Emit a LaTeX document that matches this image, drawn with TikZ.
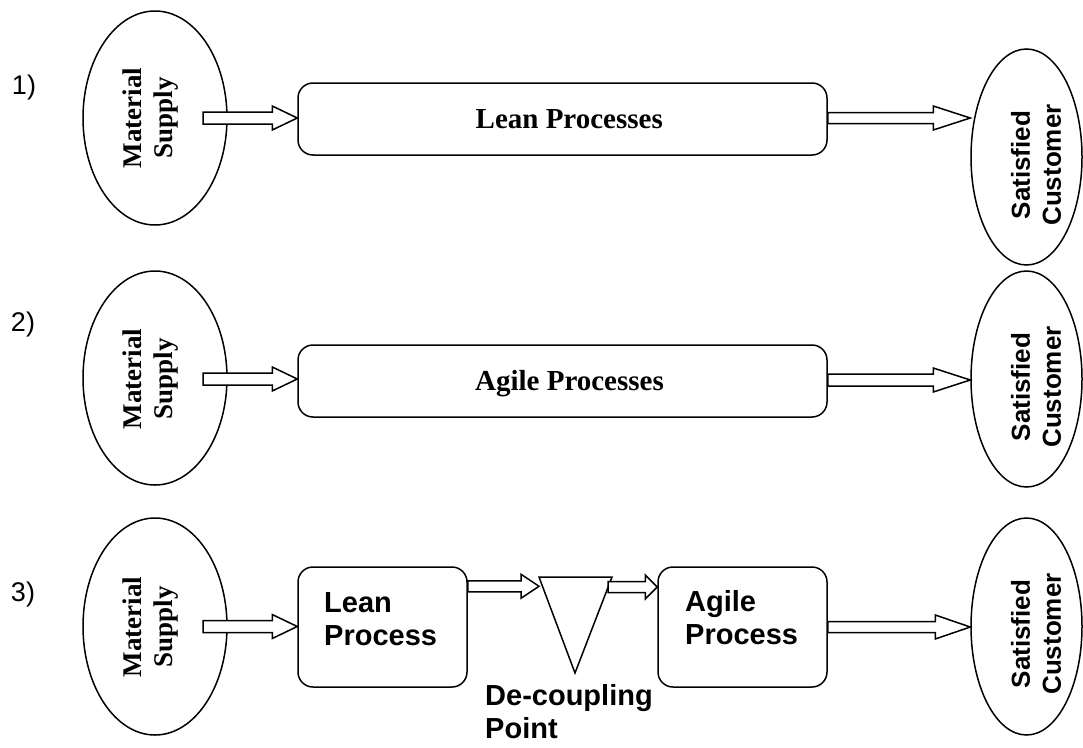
\documentclass[tikz,border=0pt]{standalone}
\usepackage{fontspec}
\setmainfont{Liberation Serif}
\setsansfont{Liberation Sans}
\usetikzlibrary{calc,shapes.geometric}
\tikzset{
 ell/.style={draw, ellipse, line width=1.5pt, fill=white, inner sep=0pt},
 proc/.style={draw, rounded corners=15pt, line width=1.5pt, fill=white, inner sep=0pt},
 blk/.style={draw, line width=1.5pt, fill=white, line join=miter},
 serifbig/.style={font=\fontsize{29}{33}\selectfont\bfseries, inner sep=0pt},
 sansbig/.style={font=\sffamily\fontsize{29}{33}\selectfont\bfseries, inner sep=0pt, align=left},
 mstext/.style={font=\fontsize{27}{31}\selectfont\bfseries, rotate=90, align=center, inner sep=0pt},
 sctext/.style={font=\sffamily\fontsize{26}{31}\selectfont\bfseries, rotate=90, align=center, inner sep=0pt},
 numtext/.style={font=\sffamily\fontsize{27}{31}\selectfont, inner sep=0pt},
}
\newcommand\blkarrow[4]{\draw[blk] let \p1=(#1), \p2=(#2) in
  (\x1,\y1+#4pt) -- (\x2-#3pt,\y1+#4pt) -- (\x2-#3pt,\y1+12pt) -- (\x2,\y1)
  -- (\x2-#3pt,\y1-12pt) -- (\x2-#3pt,\y1-#4pt) -- (\x1,\y1-#4pt) -- cycle;}
\begin{document}
\begin{tikzpicture}[x=1pt,y=-1pt]
\useasboundingbox (0,0) rectangle (1083,747);
% numbering
\node[numtext] (n1) at (24,88) {1)};
\node[numtext] (n2) at (23,325) {2)};
\node[numtext] (n3) at (23,595) {3)};
% row 1
\node[ell, minimum width=144, minimum height=214] (ms1) at (155,118) {};
\node[mstext] (ms1t) at (151,118) {Material\\Supply};
\node[proc, minimum width=529, minimum height=72] (lp) at (562.5,119) {};
\node[serifbig, anchor=base east] (lpt) at (663,128) {Lean Processes};
\node[ell, minimum width=111, minimum height=216] (sc1) at (1026.5,157) {};
\node[sctext] (sc1t) at (1036,165) {Satisfied\\Customer};
\coordinate (a1s) at ($(ms1.center)+(48,0)$);
\blkarrow{a1s}{lp.west}{25}{6}
\coordinate (a2s) at ($(lp.east)+(0,-1)$);
\blkarrow{a2s}{sc1.west}{37}{5.5}
% row 2
\node[ell, minimum width=144, minimum height=214] (ms2) at (155,378) {};
\node[mstext] (ms2t) at (151,379) {Material\\Supply};
\node[proc, minimum width=529, minimum height=72] (ap) at (562.5,381) {};
\node[serifbig, anchor=base east] (apt) at (664,390) {Agile Processes};
\node[ell, minimum width=111, minimum height=216] (sc2) at (1026.5,379) {};
\node[sctext] (sc2t) at (1036,387) {Satisfied\\Customer};
\coordinate (a3s) at ($(ms2.center)+(48,1)$);
\blkarrow{a3s}{ap.west}{25}{6}
\coordinate (a4s) at ($(ap.east)+(0,-1)$);
\blkarrow{a4s}{sc2.west}{37}{6}
% row 3
\node[ell, minimum width=144, minimum height=217] (ms3) at (155,626.5) {};
\node[mstext] (ms3t) at (151,627) {Material\\Supply};
\node[proc, minimum width=169, minimum height=120] (lean) at (382.5,627) {};
\node[sansbig, anchor=base west] (leant) at (324,645) {Lean\\Process};
\node[proc, minimum width=169, minimum height=120] (agile) at (742.5,627) {};
\node[sansbig, anchor=base west] (agilet) at (685,644) {Agile\\Process};
\node[ell, minimum width=111, minimum height=217] (sc3) at (1026.5,626.5) {};
\node[sctext] (sc3t) at (1036,634) {Satisfied\\Customer};
\coordinate (a7s) at ($(ms3.center)+(48,0)$);
\blkarrow{a7s}{lean.west}{25}{6}
\coordinate (a8s) at (agile.east);
\blkarrow{a8s}{sc3.west}{35}{5.5}
% de-coupling point
\coordinate (tl) at (539,577);
\coordinate (tr) at (612,577);
\coordinate (tb) at (575,673);
\draw[blk] (tl) -- (tr) -- (tb) -- cycle;
\coordinate (a5s) at ($(lean.north east)+(0,20)$);
\blkarrow{a5s}{tl}{18}{5.5}
\coordinate (a6s) at (608,587);
\blkarrow{a6s}{agile.west}{12}{5.5}
\node[sansbig, anchor=base west] (dp) at (485,738) {De-coupling\\Point};
\end{tikzpicture}
\end{document}
